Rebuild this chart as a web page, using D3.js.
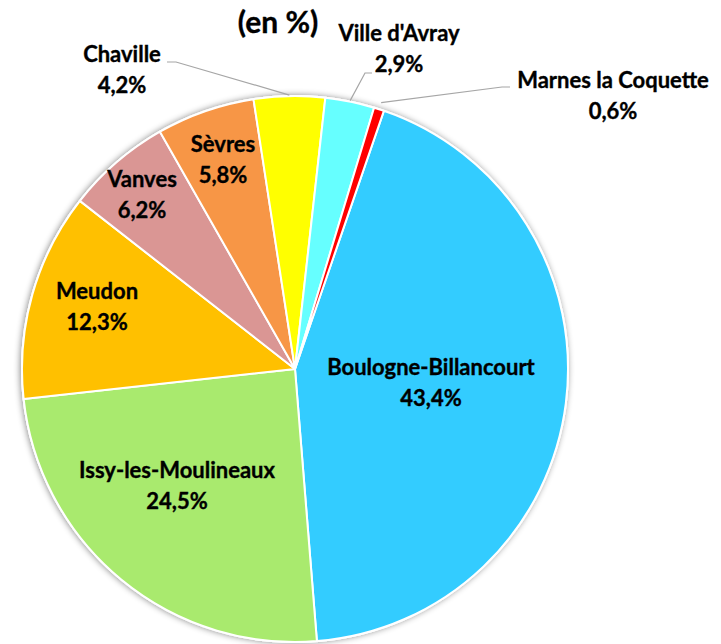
<!DOCTYPE html>
<html><head><meta charset="utf-8">
<script src="https://cdn.jsdelivr.net/npm/d3@7"></script>
<style>
html,body{margin:0;padding:0;background:#fff;}
text{font-family:Lato,"Open Sans",sans-serif;font-weight:700;fill:#000;stroke:#000;stroke-width:0.35px;}
</style></head>
<body>
<svg id="chart" width="721" height="644"></svg>
<script>
const categories = ["Boulogne-Billancourt","Issy-les-Moulineaux","Meudon","Vanves","Sèvres","Chaville","Ville d'Avray","Marnes la Coquette"];
const values = [43.4,24.5,12.3,6.2,5.8,4.2,2.9,0.6];
const valueLabels = ["43,4%","24,5%","12,3%","6,2%","5,8%","4,2%","2,9%","0,6%"];
const colors = ["#33CCFF","#A9EA6E","#FFC000","#DA9694","#F79646","#FFFF00","#66FFFF","#FF0000"];
const title = "(en %)";

// layout (not data): label anchor = first-line baseline, centered
const cx = 295, cy = 369, R = 273;
const startDeg = 19;
const labelPos = [[431,375],[177,478],[97,299],[142,187],[223,152],[122,62],[399,41],[613,88]];
const leaderStart = {5:[[167,62],[176,62]], 6:[[372,73],[365,73]], 7:[[510,87],[502,87]]};
const FS = 22, LH = 31;

const svg = d3.select("#chart");
const defs = svg.append("defs");
const f = defs.append("filter").attr("id","sh").attr("x","-10%").attr("y","-10%").attr("width","120%").attr("height","120%");
f.append("feDropShadow").attr("dx",-1).attr("dy",0).attr("stdDeviation",3).attr("flood-color","#000").attr("flood-opacity",0.45);

const data = categories.map((c,i)=>({name:c, value:values[i], label:valueLabels[i], color:colors[i], i}));
const pie = d3.pie().sort(null).value(d=>d.value)
  .startAngle(startDeg*Math.PI/180).endAngle(startDeg*Math.PI/180 + 2*Math.PI);
const arcs = pie(data);
const arc = d3.arc().innerRadius(0).outerRadius(R);

const g = svg.append("g").attr("transform",`translate(${cx},${cy})`);
g.append("circle").attr("r",R+1).attr("fill","#fff").attr("filter","url(#sh)");
g.selectAll("path.slice").data(arcs).join("path").attr("class","slice")
  .attr("d",arc).attr("fill",d=>d.data.color)
  .attr("stroke","#fff").attr("stroke-width",2).attr("stroke-linejoin","round");

// leader lines
arcs.forEach((a,i)=>{
  const s = leaderStart[i]; if (!s) return;
  const m = (a.startAngle+a.endAngle)/2;
  const er = R + (i===7 ? 7 : 1);
  const pts = s.concat([[cx + er*Math.sin(m), cy - er*Math.cos(m)]]);
  svg.append("path").attr("d", d3.line()(pts)).attr("fill","none").attr("stroke","#A6A6A6").attr("stroke-width",1.2);
});

// labels
arcs.forEach((a,i)=>{
  const [x,y] = labelPos[i];
  const t = svg.append("text").attr("text-anchor","middle").attr("font-size",FS);
  t.append("tspan").attr("x",x).attr("y",y).text(a.data.name);
  t.append("tspan").attr("x",x).attr("y",y+LH).text(a.data.label);
});

svg.append("text").attr("x",278).attr("y",33).attr("text-anchor","middle").attr("font-size",30).text(title);
</script>
</body></html>
